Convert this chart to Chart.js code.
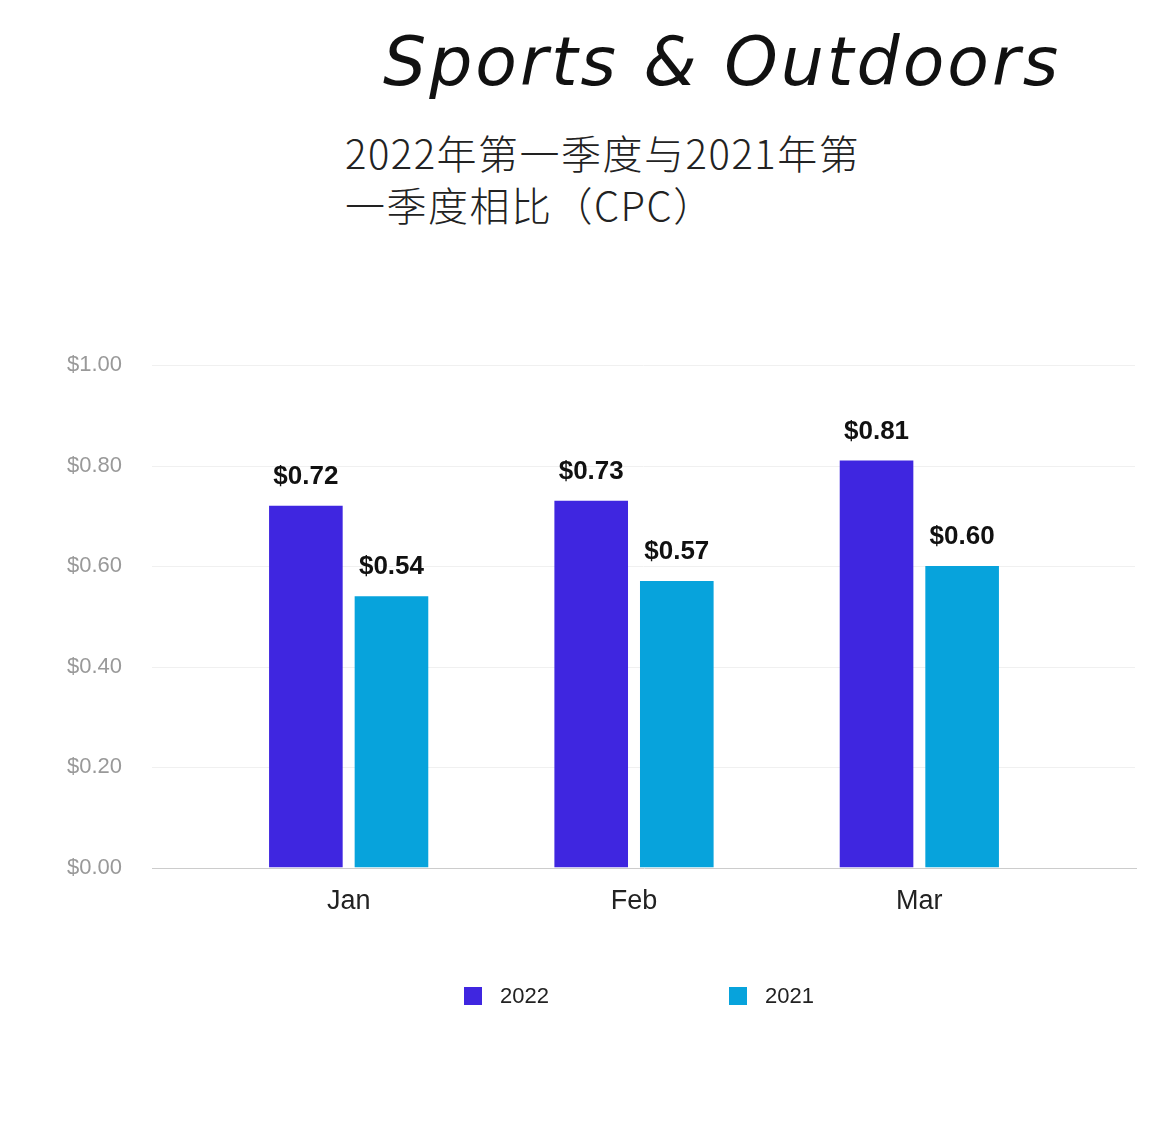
<!DOCTYPE html>
<html><head><meta charset="utf-8">
<script src="https://cdn.jsdelivr.net/npm/chart.js@4"></script>
<style>
body{margin:0;background:#fff;width:1170px;height:1124px;overflow:hidden;position:relative;font-family:"Noto Sans CJK SC",sans-serif}
#t1{position:absolute;left:383px;top:22px;font:italic 68px "DejaVu Sans",sans-serif;color:#111;letter-spacing:3px}
#t2{position:absolute;left:345px;top:126px;font:300 40px "Noto Sans CJK SC";color:#222;line-height:52px;letter-spacing:1.5px}
canvas{position:absolute;left:0;top:0}
</style></head><body>
<div id="t1">Sports &amp; Outdoors</div>
<div id="t2">2022年第一季度与2021年第<br>一季度相比（CPC）</div>
<canvas id="c" width="1170" height="1124"></canvas>
<script>
const categories=["Jan","Feb","Mar"];
const values2022=[0.72,0.73,0.81];
const values2021=[0.54,0.57,0.60];
const tickLabels=["$0.00","$0.20","$0.40","$0.60","$0.80","$1.00"];
const labelPlugin={id:'lbl',
beforeDatasetsDraw(ch){const c=ch.ctx,y=ch.scales.y;c.save();c.lineWidth=1;
[0.2,0.4,0.6,0.8,1].forEach(v=>{const p=Math.round(y.getPixelForValue(v))+0.5;c.strokeStyle='#f0f0f0';c.beginPath();c.moveTo(152,p);c.lineTo(1135,p);c.stroke();});
const p0=Math.round(y.getPixelForValue(0))+0.5;c.strokeStyle='#ccc';c.beginPath();c.moveTo(152,p0);c.lineTo(1137,p0);c.stroke();c.restore();},
afterDatasetsDraw(ch){const c=ch.ctx;c.save();c.font='bold 26px "Liberation Sans",Arial';c.fillStyle='#111';c.textAlign='center';c.textBaseline='bottom';
ch.data.datasets.forEach((d,i)=>{ch.getDatasetMeta(i).data.forEach((b,j)=>{c.fillText('$'+d.data[j].toFixed(2),b.x,b.y-16);});});
const lx=[464,729];c.font='22px "Liberation Sans",Arial';c.textAlign='left';c.textBaseline='middle';
ch.data.datasets.forEach((d,i)=>{c.fillStyle=d.backgroundColor;c.fillRect(lx[i],987,18,18);c.fillStyle='#222';c.fillText(d.label,lx[i]+36,997);});
c.restore();}};
new Chart(document.getElementById('c'),{type:'bar',
data:{labels:categories,datasets:[
{label:'2022',data:values2022,backgroundColor:'#3f26e0'},
{label:'2021',data:values2021,backgroundColor:'#07a3dc'}]},
options:{responsive:false,animation:false,
layout:{padding:{top:365,right:108,bottom:196,left:0}},
categoryPercentage:0.6,barPercentage:0.86,
scales:{
x:{grid:{display:false},border:{display:false},ticks:{color:'#222',font:{size:27,family:'"Liberation Sans",Arial'},padding:10}},
y:{min:0,max:1,afterFit(s){s.width=206;},border:{display:false},grid:{display:false},
ticks:{stepSize:0.2,padding:76,color:'#999',font:{size:22,family:'"Liberation Sans",Arial'},callback:(v,i)=>tickLabels[i]}}},
plugins:{legend:{display:false},tooltip:{enabled:false}}},
plugins:[labelPlugin]});
</script></body></html>
